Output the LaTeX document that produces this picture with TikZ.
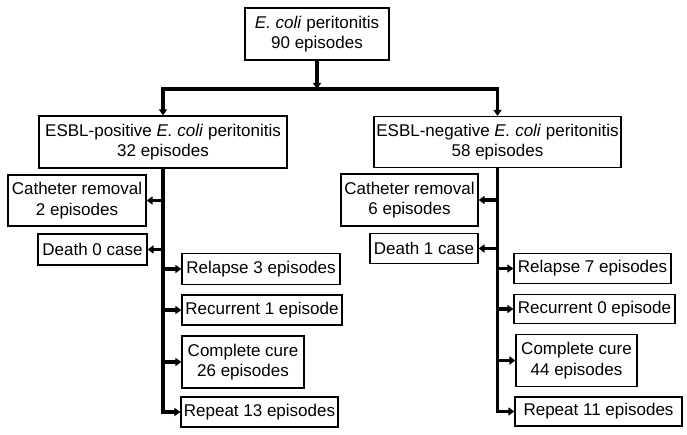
\documentclass[tikz,border=0pt]{standalone}
\usepackage{fontspec}
\setmainfont{Liberation Sans}
\usetikzlibrary{arrows.meta}
\begin{document}
\begin{tikzpicture}[x=1pt,y=-1pt,
  box/.style={draw=black,line width=1.2pt,inner sep=0pt,align=center,
    font=\fontsize{17}{20.5}\selectfont},
  trunk/.style={line width=3.1pt},
  arr/.style={line width=3.1pt,-{Triangle[length=6pt,width=8pt]}}]
\useasboundingbox (0,0) rectangle (687,435);
% top
\node[box,minimum width=144pt,minimum height=52pt] (top) at (317,34) {\textit{E. coli} peritonitis\\90 episodes};
\node[box,minimum width=248pt,minimum height=52pt] (posL) at (163,142) {ESBL-positive \textit{E. coli} peritonitis\\32 episodes};
\node[box,minimum width=247pt,minimum height=51pt] (negR) at (497.5,142) {ESBL-negative \textit{E. coli} peritonitis\\58 episodes};
\coordinate (j) at (317,89);
% left branch
\node[box,minimum width=138pt,minimum height=51pt] (catL) at (77,200.5) {Catheter removal\\2 episodes};
\node[box,minimum width=109pt,minimum height=31pt] (deathL) at (92.5,249.5) {Death 0 case};
\node[box,minimum width=158pt,minimum height=31pt] (relL) at (261,269) {Relapse 3 episodes};
\node[box,minimum width=160pt,minimum height=30pt] (recL) at (262,310) {Recurrent 1 episode};
\node[box,minimum width=122pt,minimum height=52pt] (cureL) at (243,362) {Complete cure\\26 episodes};
\node[box,minimum width=157pt,minimum height=30pt] (repL) at (259.5,412) {Repeat 13 episodes};
% right branch
\node[box,minimum width=137pt,minimum height=52pt] (catR) at (409.5,200) {Catheter removal\\6 episodes};
\node[box,minimum width=108pt,minimum height=30pt] (deathR) at (424,248.5) {Death 1 case};
\node[box,minimum width=157pt,minimum height=30pt] (relR) at (592.5,268.5) {Relapse 7 episodes};
\node[box,minimum width=161pt,minimum height=29pt] (recR) at (594.5,309) {Recurrent 0 episode};
\node[box,minimum width=121pt,minimum height=52pt] (cureR) at (576.5,360.5) {Complete cure\\44 episodes};
\node[box,minimum width=167pt,minimum height=29pt] (repR) at (598.5,411.5) {Repeat 11 episodes};
% top connectors
\draw[arr] (top.south) -- (j);
\draw[trunk] ([xshift=-1.55pt]posL.north |- j) -- ([xshift=1.55pt]negR.north |- j);
\draw[arr] (posL.north |- j) -- (posL.north);
\draw[arr] (negR.north |- j) -- (negR.north);
% left trunk
\draw[arr] (posL.south) |- (repL.west);
\draw[arr] (posL.south |- catL) -- (catL.east);
\draw[arr] (posL.south |- deathL) -- (deathL.east);
\draw[arr] (posL.south |- relL) -- (relL.west);
\draw[arr] (posL.south |- recL) -- (recL.west);
\draw[arr] (posL.south |- cureL) -- (cureL.west);
% right trunk
\draw[arr] (negR.south) |- (repR.west);
\draw[arr] (negR.south |- catR) -- (catR.east);
\draw[arr] (negR.south |- deathR) -- (deathR.east);
\draw[arr] (negR.south |- relR) -- (relR.west);
\draw[arr] (negR.south |- recR) -- (recR.west);
\draw[arr] (negR.south |- cureR) -- (cureR.west);
\end{tikzpicture}
\end{document}
